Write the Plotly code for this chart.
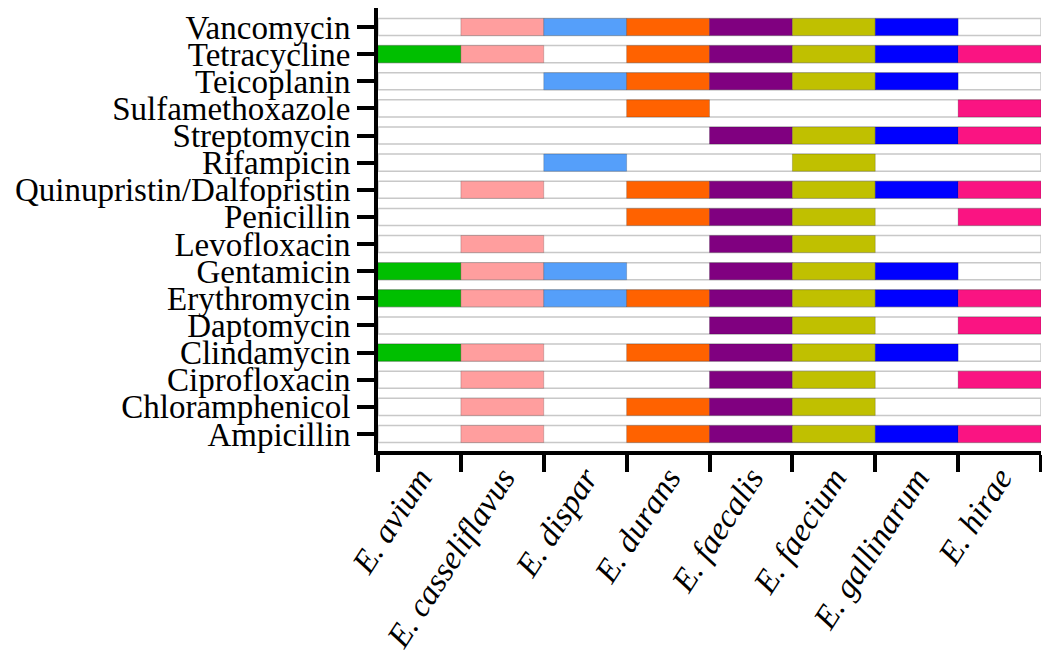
import plotly.graph_objects as go

antibiotics = ["Ampicillin", "Chloramphenicol", "Ciprofloxacin", "Clindamycin", "Daptomycin",
               "Erythromycin", "Gentamicin", "Levofloxacin", "Penicillin",
               "Quinupristin/Dalfopristin", "Rifampicin", "Streptomycin", "Sulfamethoxazole",
               "Teicoplanin", "Tetracycline", "Vancomycin"]

species = ["E. avium", "E. casseliflavus", "E. dispar", "E. durans",
           "E. faecalis", "E. faecium", "E. gallinarum", "E. hirae"]

species_colors = ["#00BF00", "#FF9E9E", "#559FFA", "#FF6200",
                  "#800080", "#C0C000", "#0000FF", "#FA1482"]

# 1 = resistance detected, 0 = not; rows follow `antibiotics`, columns follow `species`
resistance = {
    "Ampicillin":                [0, 1, 0, 1, 1, 1, 1, 1],
    "Chloramphenicol":           [0, 1, 0, 1, 1, 1, 0, 0],
    "Ciprofloxacin":             [0, 1, 0, 0, 1, 1, 0, 1],
    "Clindamycin":               [1, 1, 0, 1, 1, 1, 1, 0],
    "Daptomycin":                [0, 0, 0, 0, 1, 1, 0, 1],
    "Erythromycin":              [1, 1, 1, 1, 1, 1, 1, 1],
    "Gentamicin":                [1, 1, 1, 0, 1, 1, 1, 0],
    "Levofloxacin":              [0, 1, 0, 0, 1, 1, 0, 0],
    "Penicillin":                [0, 0, 0, 1, 1, 1, 0, 1],
    "Quinupristin/Dalfopristin": [0, 1, 0, 1, 1, 1, 1, 1],
    "Rifampicin":                [0, 0, 1, 0, 0, 1, 0, 0],
    "Streptomycin":              [0, 0, 0, 0, 1, 1, 1, 1],
    "Sulfamethoxazole":          [0, 0, 0, 1, 0, 0, 0, 1],
    "Teicoplanin":               [0, 0, 1, 1, 1, 1, 1, 0],
    "Tetracycline":              [1, 1, 0, 1, 1, 1, 1, 1],
    "Vancomycin":                [0, 1, 1, 1, 1, 1, 1, 0],
}

BAR_W = 0.63
FONT = "Liberation Serif"

fig = go.Figure()

# background row outline
fig.add_trace(go.Bar(
    y=antibiotics, x=[len(species)] * len(antibiotics), base=0, orientation="h",
    width=BAR_W, marker=dict(color="white", line=dict(color="#c8c8c8", width=1.5)),
    xaxis="x", yaxis="y", showlegend=False, hoverinfo="skip"))

for i, (sp, col) in enumerate(zip(species, species_colors)):
    ys = [a for a in antibiotics if resistance[a][i]]
    fig.add_trace(go.Bar(
        y=ys, x=[1] * len(ys), base=i, orientation="h", width=BAR_W, name=sp,
        marker=dict(color=col, line=dict(color="rgba(0,0,0,0.18)", width=1)),
        xaxis="x2", yaxis="y", showlegend=False))

fig.update_layout(
    width=1050, height=661,
    margin=dict(l=370, r=17, t=0, b=218, autoexpand=False),
    paper_bgcolor="white", plot_bgcolor="white",
    barmode="overlay",
    xaxis=dict(range=[0, len(species)], tickmode="array", tickvals=list(range(len(species) + 1)),
               showticklabels=False, ticks="outside", ticklen=17, tickwidth=4, tickcolor="black",
               showline=True, linewidth=4, linecolor="black", showgrid=False, zeroline=False,
               automargin=False),
    xaxis2=dict(range=[0, len(species)], overlaying="x", anchor="y", side="bottom",
                tickmode="array", tickvals=[i + 0.5 for i in range(len(species))], ticktext=species,
                ticks="", tickangle=-57, showline=False, showgrid=False, zeroline=False,
                automargin=False,
                tickfont=dict(family=FONT, size=33, color="black", style="italic")),
    yaxis=dict(type="category", categoryorder="array", categoryarray=antibiotics,
               tickmode="array", tickvals=antibiotics, ticktext=antibiotics,
               range=[-0.627, 15.70], ticks="outside", ticklen=17, tickwidth=4, tickcolor="black",
               showline=True, linewidth=4, linecolor="black", showgrid=False, zeroline=False,
               automargin=False,
               tickfont=dict(family=FONT, size=33, color="black")),
)

fig.write_html("out.html")
